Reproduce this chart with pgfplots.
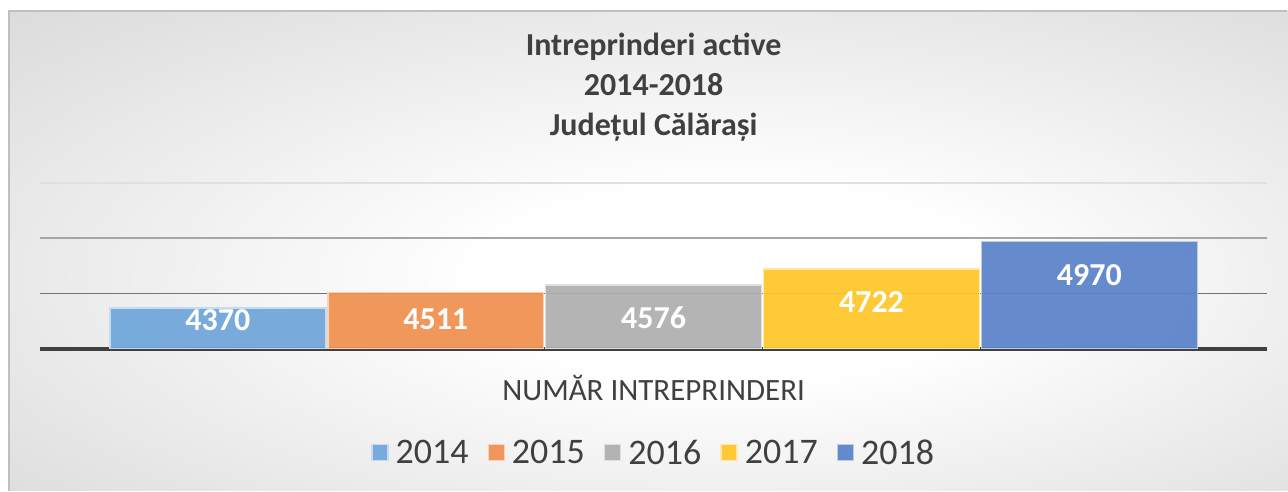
\documentclass[border=0pt]{standalone}
\usepackage{pgfplots}
\pgfplotsset{compat=1.18}
\usepackage{fontspec}
\setmainfont{Carlito}
\definecolor{c14}{HTML}{6FA6DA}
\definecolor{c15}{HTML}{F0904F}
\definecolor{c16}{HTML}{AFAFAF}
\definecolor{c17}{HTML}{FFC629}
\definecolor{c18}{HTML}{5B83C9}
\definecolor{txt}{HTML}{404040}
\pgfdeclareradialshading{bgshade}{\pgfpoint{4bp}{-4bp}}{color(0bp)=(white); color(10bp)=(white); color(50bp)=(black!20); color(72bp)=(black!24)}
\begin{document}
\begin{tikzpicture}
\fill[white] (0,0) rectangle (1288bp,491bp);
\shade[shading=bgshade] (9bp,0bp) rectangle (1288bp,480bp);
\draw[black!25, line width=1.5bp] (9bp,0bp) -- (9bp,480bp) -- (1288bp,480bp);
\begin{axis}[
  at={(40bp,142bp)}, anchor=south west,
  scale only axis, width=1228bp, height=166bp,
  xmin=-0.5, xmax=0.5, ymin=4000, ymax=5500,
  ybar=2bp, bar width=216bp,
  axis x line=bottom, axis y line=left,
  x axis line style={-, line width=3.5bp, draw=txt},
  y axis line style={draw=none},
  xtick=\empty, ytick={4500}, yticklabels={}, ytick style={draw=none},
  extra y ticks={5000}, extra y tick labels={},
  extra y tick style={grid style={black!35, line width=1.5bp}},
  ymajorgrids, grid style={black!55, line width=1.5bp},
  title={Intreprinderi active\\2014-2018\\Județul Călărași},
  title style={at={(axis description cs:0.5,1)}, anchor=center, yshift=90bp, align=center, font=\fontsize{32bp}{40bp}\selectfont\bfseries, text=txt},
  xlabel={NUMĂR INTREPRINDERI},
  xlabel style={at={(axis description cs:0.5,0)}, anchor=center, yshift=-39bp, font=\fontsize{31bp}{36bp}\selectfont, text=txt},
  legend columns=5,
  legend style={at={(axis description cs:0.5,0)}, anchor=center, yshift=-104bp, draw=none, fill=none, font=\fontsize{36bp}{40bp}\selectfont, text=txt,
    /tikz/every odd column/.append style={column sep=5bp},
    /tikz/every even column/.append style={column sep=17bp}},
  legend image code/.code={\fill[#1] (0bp,-8bp) rectangle (16bp,8bp);},
  nodes near coords,
  /pgf/number format/assume math mode=true,
  /pgf/number format/1000 sep={},
  every node near coord/.append style={font=\fontsize{32bp}{36bp}\selectfont\bfseries, text=white, anchor=center, fill opacity=1, text opacity=1},
]
\draw[black!12, line width=1.5bp] (axis cs:-0.5,5500) -- (axis cs:0.5,5500);
\addplot[fill=c14, fill opacity=0.93, draw=white!60!c14, line width=1.5bp, every node near coord/.append style={yshift=-12bp}] coordinates {(0,4370)};
\addplot[fill=c15, fill opacity=0.93, draw=white!60!c15, line width=1.5bp, every node near coord/.append style={yshift=-27bp}] coordinates {(0,4511)};
\addplot[fill=c16, fill opacity=0.93, draw=white!60!c16, line width=1.5bp, every node near coord/.append style={yshift=-33bp}] coordinates {(0,4576)};
\addplot[fill=c17, fill opacity=0.93, draw=white!60!c17, line width=1.5bp, every node near coord/.append style={yshift=-33bp}] coordinates {(0,4722)};
\addplot[fill=c18, fill opacity=0.93, draw=white!60!c18, line width=1.5bp, every node near coord/.append style={yshift=-34bp}] coordinates {(0,4970)};
\legend{2014,2015,2016,2017,2018}
\end{axis}
\end{tikzpicture}
\end{document}
